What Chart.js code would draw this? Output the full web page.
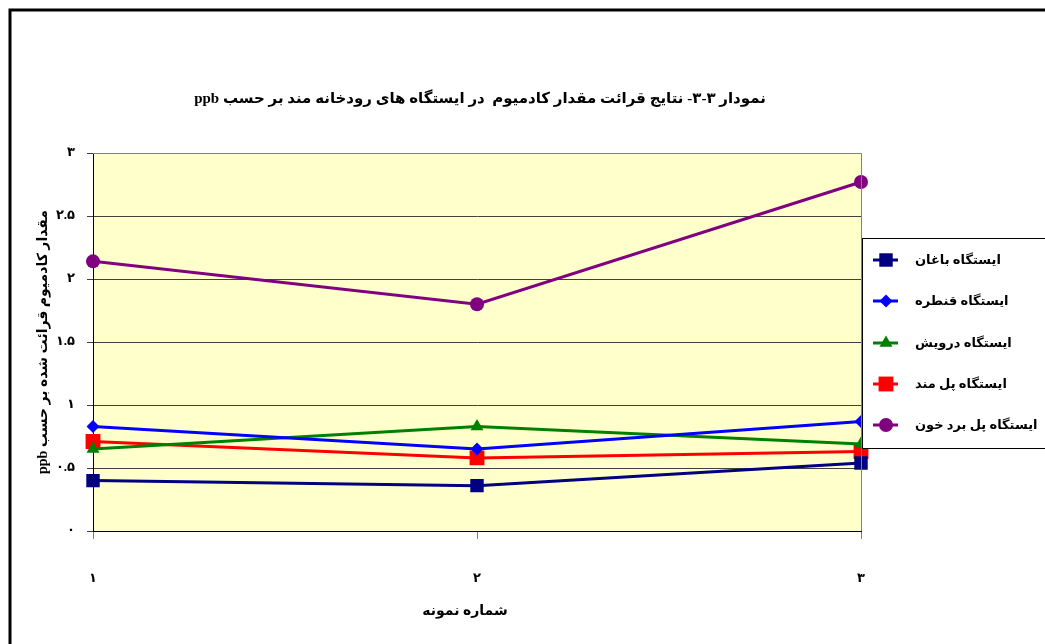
<!DOCTYPE html>
<html lang="fa">
<head>
<meta charset="utf-8">
<title>نمودار ۳-۳</title>
<script src="https://cdn.jsdelivr.net/npm/chart.js@4/dist/chart.umd.min.js"></script>
<style>
  html, body { margin: 0; padding: 0; background: #ffffff; }
  #wrap { width: 1045px; height: 644px; position: relative; }
</style>
</head>
<body>
<div id="wrap"><canvas id="c" width="1045" height="644"></canvas></div>
<script>
// Sample numbers on the x axis
const sampleLabels = ['۱', '۲', '۳'];

// Cadmium readings (ppb) per station
const baghan   = [0.40, 0.36, 0.54];
const ghantareh = [0.83, 0.65, 0.87];
const darvish  = [0.65, 0.83, 0.69];
const polMand  = [0.71, 0.58, 0.63];
const polBordKhun = [2.14, 1.80, 2.77];

// Station names
const stationNames = [
  'ایستگاه باغان',
  'ایستگاه قنطره',
  'ایستگاه درویش',
  'ایستگاه پل مند',
  'ایستگاه پل برد خون'
];

// Value axis tick labels (0 .. 3 step 0.5)
const yTickLabels = ['۰', '۰.۵', '۱', '۱.۵', '۲', '۲.۵', '۳'];

const chartTitle = 'نمودار ۳-۳- نتایج قرائت مقدار کادمیوم  در ایستگاه های رودخانه مند بر حسب ppb';
const yAxisTitle = 'مقدار کادمیوم قرائت شده بر حسب ppb';
const xAxisTitle = 'شماره نمونه';

const FONT = '"Liberation Serif", "DejaVu Sans", serif';

const styles = [
  { color: '#000080', pointStyle: 'rect',     radius: 9.5 },
  { color: '#0000FF', pointStyle: 'rectRot',  radius: 6.5 },
  { color: '#008000', pointStyle: 'triangle', radius: 7.5 },
  { color: '#FF0000', pointStyle: 'rect',     radius: 10.5 },
  { color: '#800080', pointStyle: 'circle',   radius: 7 }
];

const seriesValues = [baghan, ghantareh, darvish, polMand, polBordKhun];

const datasets = seriesValues.map((vals, i) => ({
  label: stationNames[i],
  data: vals,
  borderColor: styles[i].color,
  backgroundColor: styles[i].color,
  pointBackgroundColor: styles[i].color,
  pointBorderColor: styles[i].color,
  pointBorderWidth: 0,
  borderWidth: 3,
  pointStyle: styles[i].pointStyle,
  pointRadius: styles[i].radius,
  pointHoverRadius: styles[i].radius,
  tension: 0
}));

// Frame, plot background, titles and legend box
const decorations = {
  id: 'decorations',
  beforeDraw(chart) {
    const { ctx, chartArea: a } = chart;
    ctx.save();
    ctx.fillStyle = '#FFFFCC';
    ctx.fillRect(a.left, a.top, a.right - a.left, a.bottom - a.top);
    ctx.restore();
  },
  afterDatasetsDraw(chart) {
    const { ctx, chartArea: a } = chart;
    ctx.save();
    // plot border (top and right edges)
    ctx.strokeStyle = '#808080';
    ctx.lineWidth = 1;
    ctx.beginPath();
    ctx.moveTo(a.left, a.top + 0.5);
    ctx.lineTo(a.right + 0.5, a.top + 0.5);
    ctx.lineTo(a.right + 0.5, a.bottom);
    ctx.stroke();
    ctx.restore();
  },
  afterDraw(chart) {
    const { ctx, chartArea: a } = chart;
    ctx.save();

    // outer frame
    ctx.strokeStyle = '#000';
    ctx.lineWidth = 3;
    ctx.beginPath();
    ctx.moveTo(10, 700);
    ctx.lineTo(10, 10);
    ctx.lineTo(1100, 10);
    ctx.stroke();

    ctx.direction = 'rtl';
    ctx.fillStyle = '#000';

    // chart title
    ctx.font = 'bold 15px ' + FONT;
    ctx.textAlign = 'center';
    ctx.textBaseline = 'middle';
    ctx.fillText(chartTitle, 480, 99);

    // x axis title
    ctx.font = 'bold 14px ' + FONT;
    ctx.fillText(xAxisTitle, 465, 611);

    // y axis title (rotated)
    ctx.save();
    ctx.translate(43, (a.top + a.bottom) / 2);
    ctx.rotate(-Math.PI / 2);
    ctx.font = 'bold 14px ' + FONT;
    ctx.fillText(yAxisTitle, 0, 0);
    ctx.restore();

    // legend box
    const lx = 862, ly = 238, lw = 200, lh = 210;
    ctx.fillStyle = '#ffffff';
    ctx.fillRect(lx, ly, lw, lh);
    ctx.strokeStyle = '#000';
    ctx.lineWidth = 1;
    ctx.strokeRect(lx + 0.5, ly + 0.5, lw, lh);

    const rowY = [260, 301, 343, 384, 425];
    chart.data.datasets.forEach((ds, i) => {
      const y = rowY[i];
      ctx.strokeStyle = ds.borderColor;
      ctx.lineWidth = 3;
      ctx.beginPath();
      ctx.moveTo(873, y);
      ctx.lineTo(898, y);
      ctx.stroke();
      ctx.fillStyle = ds.borderColor;
      Chart.helpers.drawPoint(ctx, {
        pointStyle: ds.pointStyle,
        radius: ds.pointRadius,
        rotation: 0,
        borderWidth: 0
      }, 886, y);
      ctx.fillStyle = '#000';
      ctx.font = 'bold 13px ' + FONT;
      ctx.textAlign = 'left';
      ctx.textBaseline = 'middle';
      ctx.fillText(ds.label, 915, y + 1);
    });

    ctx.restore();
  }
};

new Chart(document.getElementById('c'), {
  type: 'line',
  data: { labels: sampleLabels, datasets },
  plugins: [decorations],
  options: {
    responsive: false,
    animation: false,
    events: [],
    layout: { padding: { left: 0, top: 153, right: 184, bottom: 0 } },
    plugins: {
      legend: { display: false },
      title: { display: false },
      tooltip: { enabled: false }
    },
    scales: {
      x: {
        type: 'category',
        offset: false,
        afterFit(scale) { scale.height = 113; },
        border: { display: true, color: '#000', width: 1 },
        grid: { drawOnChartArea: false, drawTicks: true, tickLength: 8, color: '#808080' },
        ticks: {
          color: '#000',
          font: { family: FONT, size: 13, weight: 'bold' },
          padding: 32,
          maxRotation: 0,
          autoSkip: false
        }
      },
      y: {
        min: 0,
        max: 3,
        afterFit(scale) { scale.width = 93; },
        border: { display: true, color: '#000', width: 1 },
        grid: { color: '#404040', lineWidth: 1, tickLength: 6 },
        ticks: {
          stepSize: 0.5,
          color: '#000',
          padding: 12,
          font: { family: FONT, size: 13, weight: 'bold' },
          callback(value, index) { return yTickLabels[index]; }
        }
      }
    }
  }
});
</script>
</body>
</html>
